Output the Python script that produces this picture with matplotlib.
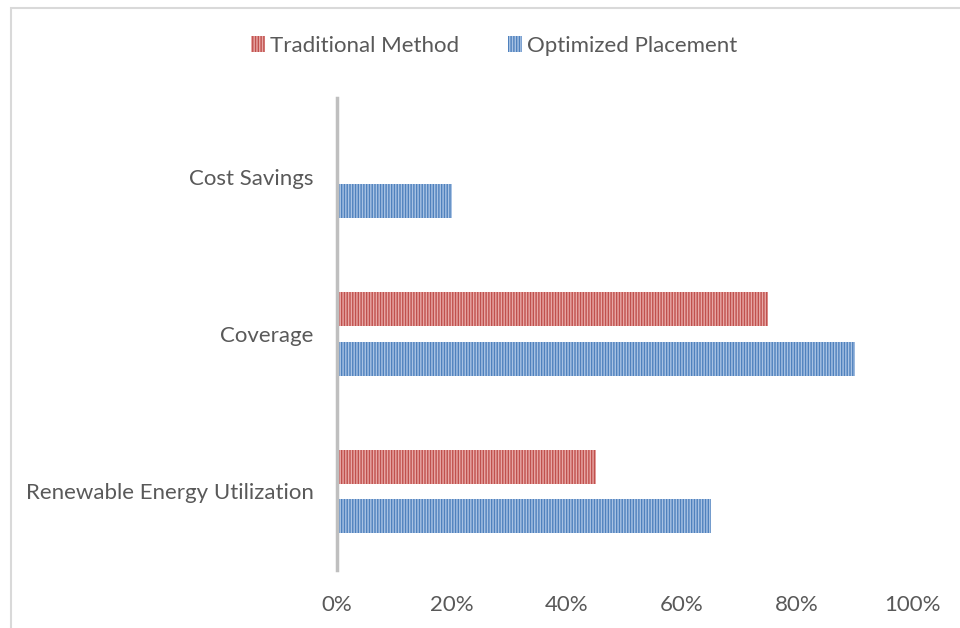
import matplotlib.pyplot as plt
import numpy as np
from matplotlib.patches import Rectangle

plt.rcParams['font.family'] = ['Lato', 'DejaVu Sans']
plt.rcParams['hatch.linewidth'] = 1.0

categories = ["Renewable Energy Utilization", "Coverage", "Cost Savings"]
traditional = [0.45, 0.75, 0.0]
optimized = [0.65, 0.90, 0.20]
series_names = ["Traditional Method", "Optimized Placement"]
tick_vals = [0, 0.2, 0.4, 0.6, 0.8, 1.0]
tick_labels = ["0%", "20%", "40%", "60%", "80%", "100%"]

red = "#C0504D"
red_hatch = "#E8A9A7"
blue = "#4F81BD"
blue_hatch = "#A9C3E4"
text_col = "#595959"

fig = plt.figure(figsize=(9.6, 6.28), dpi=100)
# outer chart border
fig.patches.append(Rectangle((10.5 / 960, -0.1), 1.2, 1.1 - 8.5 / 628,
                             transform=fig.transFigure, fill=False,
                             edgecolor="#D9D9D9", linewidth=1.5))

ax = fig.add_axes([337 / 960, 58 / 628, 575 / 960, 472 / 628])

y = np.arange(len(categories))
h = 0.215
off = 0.157
ax.barh(y + off, traditional, height=h, color=red, edgecolor=red_hatch,
        hatch="||||||", linewidth=0, label=series_names[0])
ax.barh(y - off, optimized, height=h, color=blue, edgecolor=blue_hatch,
        hatch="||||||", linewidth=0, label=series_names[1])

ax.set_xlim(0, 1.0)
ax.set_ylim(-0.5, 2.5)
ax.set_yticks(y)
ax.set_yticklabels(categories, fontsize=16, color=text_col)
ax.set_xticks(tick_vals)
ax.set_xticklabels(tick_labels, fontsize=16, color=text_col)
ax.tick_params(axis="both", length=0)
ax.tick_params(axis="x", pad=18)
ax.tick_params(axis="y", pad=17)

for s in ["top", "right", "bottom"]:
    ax.spines[s].set_visible(False)
ax.spines["left"].set_color("#BFBFBF")
ax.spines["left"].set_linewidth(2.5)

leg = fig.legend(loc="center", bbox_to_anchor=(0.515, 1 - 46 / 628),
                 ncol=2, frameon=False, fontsize=16, handlelength=0.6,
                 handleheight=0.75, handletextpad=0.25, columnspacing=2.2)
for t in leg.get_texts():
    t.set_color(text_col)

fig.savefig("out.png", dpi=100)
